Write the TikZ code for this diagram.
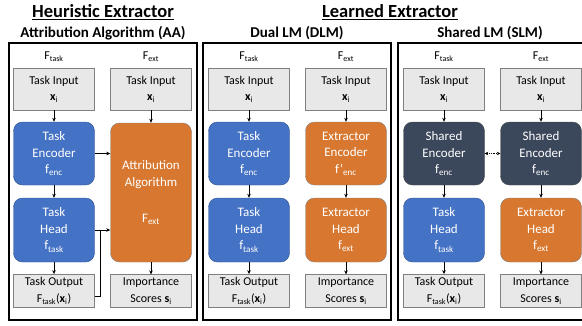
\documentclass[tikz,border=0pt]{standalone}
\usepackage{fontspec}
\setmainfont{Carlito}
\usetikzlibrary{positioning}
\usetikzlibrary{arrows.meta}

\definecolor{taskblue}{HTML}{4472C4}
\definecolor{taskblueline}{HTML}{2F528F}
\definecolor{extorange}{HTML}{D87830}
\definecolor{sharednavy}{HTML}{3B475B}
\definecolor{boxgray}{HTML}{E8E8E8}
\definecolor{linegray}{HTML}{7F7F7F}

\newcommand{\xsub}{\textbf{x}\textsubscript{i}}
\newcommand{\Fsub}[1]{F\textsubscript{#1}}
\newcommand{\fsub}[1]{f\textsubscript{#1}}

\begin{document}
\begin{tikzpicture}[x=1pt,y=-1pt,
    font=\fontsize{12}{16.5}\selectfont,
    io/.style={draw=linegray,fill=boxgray,minimum width=81pt,minimum height=42pt,align=center},
    outbox/.style={io,minimum height=32pt},
    model/.style={rounded corners=9pt,text=white,minimum width=81pt,minimum height=63pt,align=center,
        font=\fontsize{13}{16.5}\selectfont},
    taskm/.style={model,draw=taskblueline,fill=taskblue},
    extm/.style={model,draw=linegray,fill=extorange},
    sharedm/.style={model,draw=black!70,fill=sharednavy},
    panel/.style={line width=1.5pt},
    title/.style={font=\fontsize{18.5}{20}\selectfont\bfseries},
    subtitle/.style={font=\fontsize{15}{17}\selectfont\bfseries},
    flow/.style={-{Stealth[length=4pt,width=3.5pt]},line width=0.6pt}]
    \useasboundingbox (0,0) rectangle (582,325);

    % titles
    \node[title] (heur) at (103,12) {\underline{Heuristic Extractor}};
    \node[title] (learn) at (390,12) {\underline{Learned Extractor}};
    \node[subtitle] (aa) at (103,33) {Attribution Algorithm (AA)};
    \node[subtitle] (dlm) at (297,33) {Dual LM (DLM)};
    \node[subtitle] (slm) at (490,33) {Shared LM (SLM)};

    % panels
    \draw[panel] (9,43) rectangle (197,320);
    \draw[panel] (203,43) rectangle (391,320);
    \draw[panel] (398,43) rectangle (592,320);

    % AA
    \node (ft1) at (54,57) {\Fsub{task}};
    \node (fe1) at (151,57) {\Fsub{ext}};
    \node[io] (in1) at (54,89) {Task Input\\\xsub};
    \node[io] (in2) at (151,89) {Task Input\\\xsub};
    \node[taskm] (enc1) at (54,153.5) {Task\\Encoder\\\fsub{enc}};
    \node[taskm,minimum height=64pt] (head1) at (54,230) {Task\\Head\\\fsub{task}};
    \node[outbox] (out1) at (54,291) {Task Output\\\Fsub{task}(\xsub)};
    \node[extm,minimum height=139pt] (attr) at (151,192.5) {Attribution\\Algorithm\\[20pt]\Fsub{ext}};
    \node[outbox] (imp2) at (151,291) {Importance\\Scores \textbf{s}\textsubscript{i}};
    \draw[flow] (in1) -- (enc1);
    \draw[flow] (enc1) -- (head1);
    \draw[flow] (head1) -- (out1);
    \draw[flow] (in2) -- (attr);
    \draw[flow] (attr) -- (imp2);
    \draw[flow] (enc1.east) -- (enc1.east -| attr.west);
    \draw[flow] (head1.east) -- (head1.east -| attr.west);
    \coordinate[xshift=6pt] (join1) at (head1.east);
    \draw[line width=0.6pt] ([yshift=-5pt]out1.east) -| (join1);

    % DLM
    \node (ft3) at (249,57) {\Fsub{task}};
    \node (fe3) at (346,57) {\Fsub{ext}};
    \node[io] (in3) at (249,89) {Task Input\\\xsub};
    \node[io] (in4) at (346,89) {Task Input\\\xsub};
    \node[taskm] (enc3) at (249,153.5) {Task\\Encoder\\\fsub{enc}};
    \node[extm] (enc4) at (346,153.5) {Extractor\\Encoder\\f’\textsubscript{enc}};
    \node[taskm,minimum height=64pt] (head3) at (249,230) {Task\\Head\\\fsub{task}};
    \node[extm,minimum height=64pt] (head4) at (346,230) {Extractor\\Head\\\fsub{ext}};
    \node[outbox] (out3) at (249,291) {Task Output\\\Fsub{task}(\xsub)};
    \node[outbox] (imp4) at (346,291) {Importance\\Scores \textbf{s}\textsubscript{i}};
    \draw[flow] (in3) -- (enc3);
    \draw[flow] (enc3) -- (head3);
    \draw[flow] (head3) -- (out3);
    \draw[flow] (in4) -- (enc4);
    \draw[flow] (enc4) -- (head4);
    \draw[flow] (head4) -- (imp4);

    % SLM
    \node (ft5) at (444,57) {\Fsub{task}};
    \node (fe5) at (541,57) {\Fsub{ext}};
    \node[io] (in5) at (444,89) {Task Input\\\xsub};
    \node[io] (in6) at (541,89) {Task Input\\\xsub};
    \node[sharedm] (enc5) at (444,153.5) {Shared\\Encoder\\\fsub{enc}};
    \node[sharedm] (enc6) at (541,153.5) {Shared\\Encoder\\\fsub{enc}};
    \node[taskm,minimum height=64pt] (head5) at (444,230) {Task\\Head\\\fsub{task}};
    \node[extm,minimum height=64pt] (head6) at (541,230) {Extractor\\Head\\\fsub{ext}};
    \node[outbox] (out5) at (444,291) {Task Output\\\Fsub{task}(\xsub)};
    \node[outbox] (imp6) at (541,291) {Importance\\Scores \textbf{s}\textsubscript{i}};
    \draw[flow] (in5) -- (enc5);
    \draw[flow] (enc5) -- (head5);
    \draw[flow] (head5) -- (out5);
    \draw[flow] (in6) -- (enc6);
    \draw[flow] (enc6) -- (head6);
    \draw[flow] (head6) -- (imp6);
    \draw[{Stealth[length=3.5pt,width=3.5pt]}-{Stealth[length=3.5pt,width=3.5pt]},densely dotted,line width=0.9pt] (enc5) -- (enc6);
\end{tikzpicture}
\end{document}
